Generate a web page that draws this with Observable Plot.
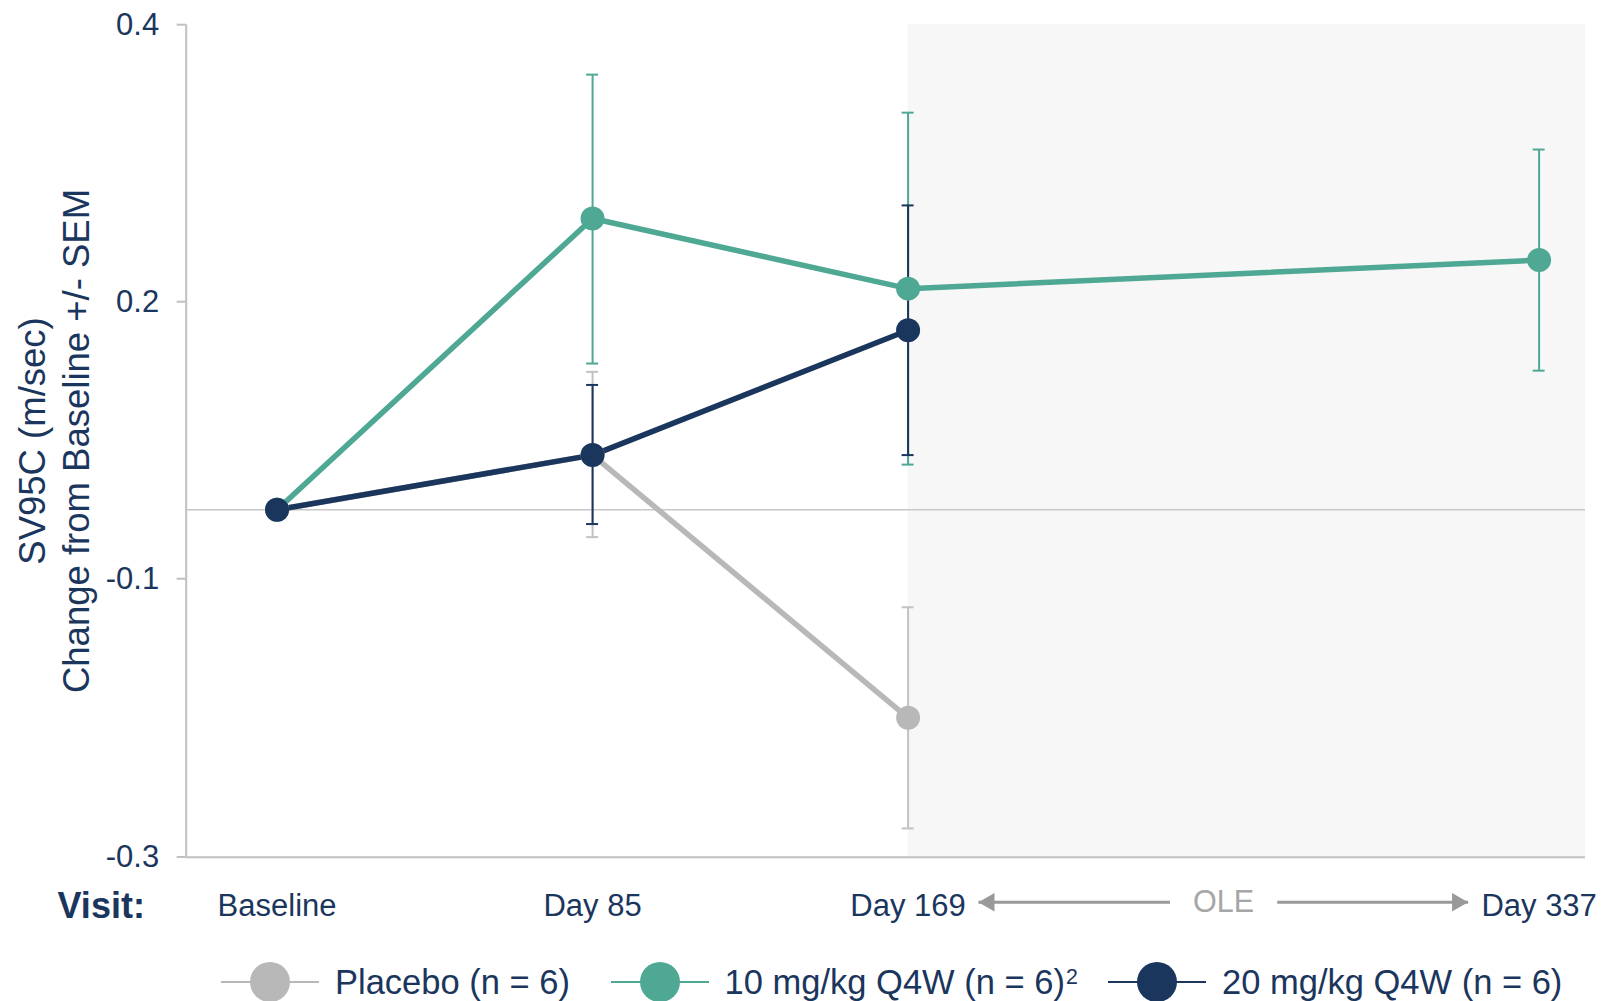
<!DOCTYPE html>
<html>
<head>
<meta charset="utf-8">
<script src="https://cdn.jsdelivr.net/npm/d3@7"></script>
<script src="https://cdn.jsdelivr.net/npm/@observablehq/plot@0.6"></script>
<style>
  html, body { margin: 0; padding: 0; background: #ffffff; overflow: hidden; }
  #chart { width: 1601px; }
  #legend { position: relative; width: 1601px; height: 74px; font-family: "Liberation Sans", Arial, sans-serif; font-size: 34.5px; color: #1b365d; }
  .item { position: absolute; top: 0; height: 74px; display: flex; align-items: center; white-space: nowrap; }
  .item svg { margin-right: 16px; }
  sup { font-size: 0.62em; vertical-align: 0.45em; line-height: 0; margin-left: 1px; }
</style>
</head>
<body>
<div id="chart"></div>
<div id="legend"></div>
<script>
// ---- data ----
const visits = ["Baseline", "Day 85", "Day 169", "Day 337"];
const visitPos = [0, 1, 2, 4];

const placeboMean = [0, 0.046, -0.175, null];
const placeboLo   = [null, -0.023, -0.268, null];
const placeboHi   = [null, 0.116, -0.082, null];

const dose10Mean = [0, 0.245, 0.186, 0.210];
const dose10Lo   = [null, 0.123, 0.038, 0.117];
const dose10Hi   = [null, 0.366, 0.334, 0.303];

const dose20Mean = [0, 0.046, 0.151, null];
const dose20Lo   = [null, -0.012, 0.046, null];
const dose20Hi   = [null, 0.105, 0.256, null];

const seriesNames  = ["Placebo (n = 6)", "10 mg/kg Q4W (n = 6)", "20 mg/kg Q4W (n = 6)"];
const seriesSup    = ["", "2", ""];
const seriesColors = ["#b8b8b8", "#4ea894", "#1b365d"];
const barColors    = ["#c2c2c2", "#4ea894", "#1b365d"];

const yTickValues = [0.408, 0.175, -0.058, -0.292];
const yTickLabels = ["0.4", "0.2", "-0.1", "-0.3"];

const yLabel = "SV95C (m/sec)\nChange from Baseline +/- SEM";
const xAxisTitle = "Visit:";
const oleLabel = "OLE";
const oleCenter = [3];
const oleArrowFrom = [2.83, 3.17];
const oleArrowTo = [2.223, 3.775];

// ---- scales ----
const xMin = -0.288, xMax = 4.147;
const yMin = -0.2922, yMax = 0.4079;
const navy = "#1b365d";

// build table
const all = [
  {mean: placeboMean, lo: placeboLo, hi: placeboHi},
  {mean: dose10Mean, lo: dose10Lo, hi: dose10Hi},
  {mean: dose20Mean, lo: dose20Lo, hi: dose20Hi}
].map((s, si) => visitPos.map((p, i) => ({series: si, pos: p, mean: s.mean[i], lo: s.lo[i], hi: s.hi[i]}))
  .filter(d => d.mean != null));

const barMarks = [];
const lineMarks = [];
const dotMarks = [];
all.forEach((rows, si) => {
  const bars = rows.filter(d => d.lo != null);
  barMarks.push(
    Plot.ruleX(bars, {x: "pos", y1: "lo", y2: "hi", stroke: barColors[si], strokeWidth: 2}),
    Plot.ruleY(bars, {y: "hi", x1: "pos", x2: "pos", insetLeft: -6, insetRight: -6, stroke: barColors[si], strokeWidth: 2}),
    Plot.ruleY(bars, {y: "lo", x1: "pos", x2: "pos", insetLeft: -6, insetRight: -6, stroke: barColors[si], strokeWidth: 2})
  );
  lineMarks.push(Plot.line(rows, {x: "pos", y: "mean", stroke: seriesColors[si], strokeWidth: 5.5}));
  dotMarks.push(Plot.dot(rows, {x: "pos", y: "mean", fill: seriesColors[si], r: 12}));
});

const arrows = oleArrowFrom.map((f, i) => ({from: f, to: oleArrowTo[i]}));

const plot = Plot.plot({
  width: 1601,
  height: 945,
  marginLeft: 185.7,
  marginRight: 16,
  marginTop: 24.3,
  marginBottom: 88.3,
  x: {domain: [xMin, xMax]},
  y: {domain: [yMin, yMax]},
  style: {fontFamily: "'Liberation Sans', Arial, sans-serif", background: "#ffffff", overflow: "visible"},
  marks: [
    Plot.rect([{}], {x1: () => visitPos[2], x2: () => xMax, y1: () => yMin, y2: () => yMax, fill: "#f7f7f7"}),
    Plot.ruleY([0], {stroke: "#c8c8c8", strokeWidth: 1.6}),
    Plot.ruleY([yMin], {stroke: "#c0c0c0", strokeWidth: 2}),
    Plot.ruleX([xMin], {stroke: "#c0c0c0", strokeWidth: 2}),
    Plot.axisY(yTickValues, {
      tickFormat: d => yTickLabels[yTickValues.indexOf(d)],
      tickSize: 9, tickPadding: 18, fontSize: 31, stroke: "#c0c0c0", strokeWidth: 2, fill: navy, label: null
    }),
    Plot.axisX(visitPos, {
      tickFormat: d => visits[visitPos.indexOf(d)],
      tickSize: 0, tickPadding: 37, fontSize: 31, fill: navy, label: null
    }),
    Plot.text([yLabel], {frameAnchor: "left", dx: -133, rotate: -90, textAnchor: "middle", lineAnchor: "middle", fontSize: 36.5, lineHeight: 1.2, fill: navy}),
    Plot.text([xAxisTitle], {frameAnchor: "bottom-left", dx: -85, dy: 49, textAnchor: "middle", lineAnchor: "middle", fontSize: 36, fontWeight: "bold", fill: navy}),
    Plot.text(oleCenter, {x: d => d, frameAnchor: "bottom", dy: 45, textAnchor: "middle", lineAnchor: "middle", text: () => oleLabel, fontSize: 30.5, fill: "#a6a6a6"}),
    Plot.link(arrows, {x1: "from", x2: "to", y1: () => yMin, y2: () => yMin, dy: 45, stroke: "#999999", strokeWidth: 3}),
    Plot.dot([arrows[0]], {x: "to", y: () => yMin, dy: 45, dx: 10.7, symbol: "triangle", rotate: -90, r: 6.9, fill: "#999999"}),
    Plot.dot([arrows[1]], {x: "to", y: () => yMin, dy: 45, dx: -10.7, symbol: "triangle", rotate: 90, r: 6.9, fill: "#999999"}),
    ...barMarks,
    ...lineMarks,
    ...dotMarks
  ]
});
document.getElementById("chart").appendChild(plot);

// ---- legend ----
const legendLeft = [221, 610.6, 1108];
const legend = document.getElementById("legend");
seriesNames.forEach((name, i) => {
  const item = document.createElement("div");
  item.className = "item";
  item.style.left = legendLeft[i] + "px";
  item.innerHTML =
    `<svg width="98" height="44"><line x1="0" x2="98" y1="22" y2="22" stroke="${seriesColors[i]}" stroke-width="2"/>` +
    `<circle cx="49" cy="22" r="20" fill="${seriesColors[i]}"/></svg>` +
    `<span>${name}${seriesSup[i] ? `<sup>${seriesSup[i]}</sup>` : ""}</span>`;
  legend.appendChild(item);
});
</script>
</body>
</html>
